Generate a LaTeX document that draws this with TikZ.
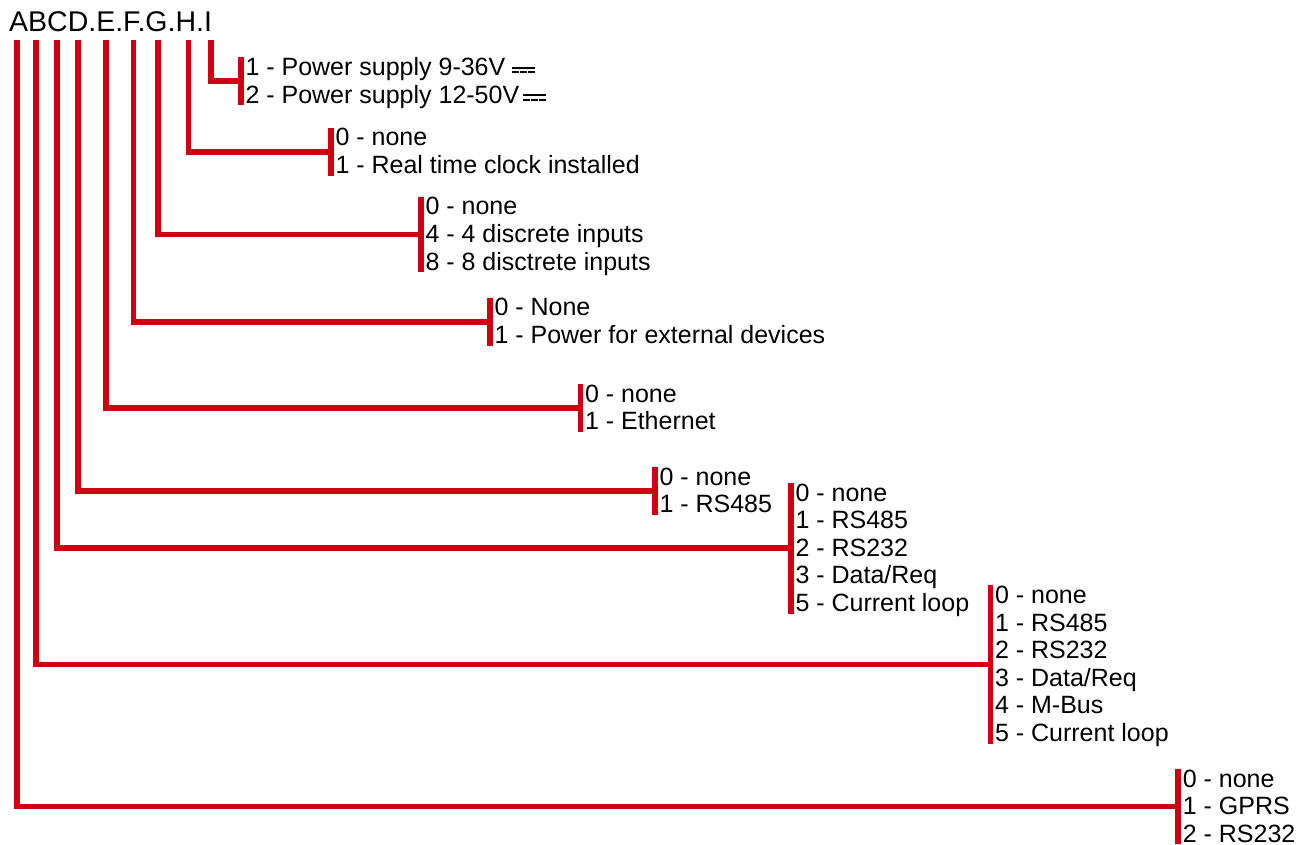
\documentclass[tikz,border=0pt]{standalone}
\usepackage{fontspec}
\setmainfont{Liberation Sans}
\usepackage{tikz}
\usetikzlibrary{calc}
\definecolor{codered}{HTML}{CE0011}
\newcommand{\dcsign}{\rlap{\rule[6.6pt]{23pt}{2.2pt}}\rule[2.2pt]{6.8pt}{2.2pt}\hspace{1.3pt}\rule[2.2pt]{6.8pt}{2.2pt}\hspace{1.3pt}\rule[2.2pt]{6.8pt}{2.2pt}}

\begin{document}
\begin{tikzpicture}[x=1pt,y=-1pt,
  branch/.style={draw=codered,line width=5.7pt},
  optline/.style={anchor=base west,inner xsep=4.3pt,inner ysep=0pt,text height=18pt,text depth=2pt,font=\fontsize{25}{27.6}\selectfont}]
  \useasboundingbox (0,0) rectangle (1310,845);
  \node[anchor=base west,inner sep=0pt,font=\fontsize{28.5}{30}\selectfont] (code) at (9,32) {ABCD.E.F.G.H.I};
  \foreach \n/\x/\bx/\by/\m/\lst in {
    I/211/241/75.5/2/{1 - Power supply 9-36V \dcsign, 2 - Power supply 12-50V\hspace{4pt}\dcsign},
    H/188.5/331/146/2/{0 - none, 1 - Real time clock installed},
    G/158/421/215/3/{0 - none, 4 - 4 discrete inputs, 8 - 8 disctrete inputs},
    F/133.5/490/316/2/{0 - None, 1 - Power for external devices},
    E/106/580.5/402/2/{0 - none, 1 - Ethernet},
    D/78/655/485/2/{0 - none, 1 - RS485},
    C/57/791/501/5/{0 - none, 1 - RS485, 2 - RS232, 3 - Data/Req, 5 - Current loop},
    B/36/990.5/603.5/6/{0 - none, 1 - RS485, 2 - RS232, 3 - Data/Req, 4 - M-Bus, 5 - Current loop},
    A/17.3/1178.3/787/3/{0 - none, 1 - GPRS, 2 - RS232}} {
    \coordinate (top\n) at (\x,40);
    \foreach \txt [count=\k] in \lst
      \node[optline] (opt\n\k) at (\bx,{\by+27.6*(\k-1)}) {\txt};
    \draw[branch] (opt\n1.north west) -- (opt\n\m.south west);
    \draw[branch] (top\n) |- ($(opt\n1.north west)!0.5!(opt\n\m.south west)$);
  }
\end{tikzpicture}
\end{document}
